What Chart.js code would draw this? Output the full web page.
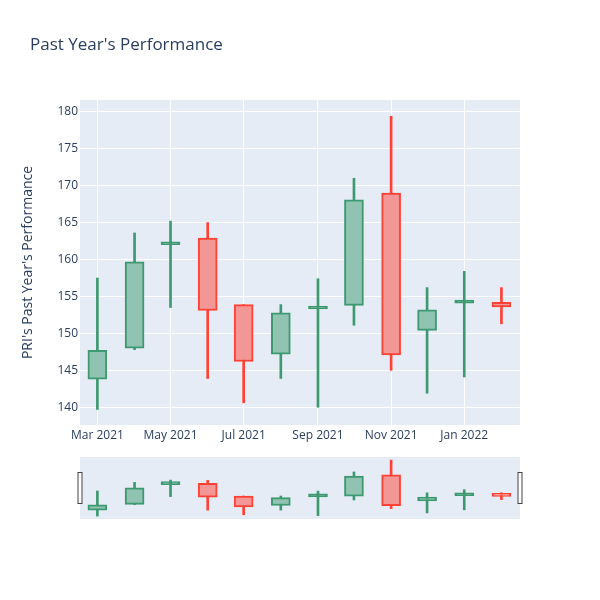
<!DOCTYPE html>
<html>
<head>
<meta charset="utf-8">
<title>Past Year's Performance</title>
<script src="https://cdn.jsdelivr.net/npm/chart.js@4.4.1/dist/chart.umd.min.js"></script>
<style>
  body { margin: 0; background: #fff; }
  #wrap { position: relative; width: 600px; height: 600px; }
  canvas { position: absolute; left: 0; }
  #mainChart { top: 0; }
  #sliderChart { top: 450px; }
</style>
</head>
<body>
<div id="wrap">
  <canvas id="mainChart" width="600" height="450"></canvas>
  <canvas id="sliderChart" width="600" height="80"></canvas>
</div>
<script>
// ==========================
// DATA (monthly candles)
// ==========================
const dates = ["2021-03-01", "2021-04-01", "2021-05-01", "2021-06-01", "2021-07-01", "2021-08-01",
               "2021-09-01", "2021-10-01", "2021-11-01", "2021-12-01", "2022-01-01", "2022-02-01"]
const open  = [143.8, 148.0, 162.0, 162.9, 153.9, 147.2, 153.3, 153.8, 169.0, 150.4, 154.1, 154.2]
const high  = [157.5, 163.6, 165.2, 165.0, 153.9, 153.9, 157.4, 171.0, 179.4, 156.2, 158.4, 156.2]
const low   = [139.7, 147.8, 153.5, 143.9, 140.6, 143.9, 140.0, 151.1, 145.0, 141.9, 144.1, 151.3]
const close = [147.7, 159.7, 162.2, 153.1, 146.2, 152.8, 153.6, 168.1, 147.1, 153.2, 154.3, 153.6]

// tick labels
const xTickDates  = ["2021-03-01", "2021-05-01", "2021-07-01", "2021-09-01", "2021-11-01", "2022-01-01"]
const xTickLabels = ["Mar 2021", "May 2021", "Jul 2021", "Sep 2021", "Nov 2021", "Jan 2022"]
const yTicks = [140, 145, 150, 155, 160, 165, 170, 175, 180]

const titleText = "Past Year's Performance"
const yTitleText = "PRI's Past Year's Performance"

// axis ranges
const xMin = Date.UTC(2021, 1, 14, 12)
const xMax = Date.UTC(2022, 1, 16, 12)
const yMin = 137.6
const yMax = 181.6

// colours (plotly increasing / decreasing)
const upLine = "#3D9970"
const upFill = "rgb(145, 195, 179)"
const downLine = "#FF4136"
const downFill = "rgb(242, 151, 150)"
const textColor = "#2a3f5f"

Chart.defaults.font.family = '"Open Sans", verdana, arial, sans-serif'
Chart.defaults.font.size = 12
Chart.defaults.color = textColor

const isUp = open.map((o, i) => close[i] >= o)
const lineColors = isUp.map((u) => (u ? upLine : downLine))
// very thin bodies look like a solid line (border covers the fill)
const fillColors = isUp.map((u, i) => {
  if (Math.abs(close[i] - open[i]) < 0.5) return lineColors[i]
  return u ? upFill : downFill
})

// builds the body + wick bar datasets
function candleDatasets() {
  return [
    {
      label: "Body",
      data: dates.map((d, i) => ({ x: Date.parse(d), y: [open[i], close[i]] })),
      backgroundColor: fillColors,
      borderColor: lineColors,
      borderWidth: 2,
      borderSkipped: false,
      barThickness: 19,
      minBarLength: 3,
      grouped: false,
      order: 0,
    },
    {
      label: "Wick",
      data: dates.map((d, i) => ({ x: Date.parse(d), y: [low[i], high[i]] })),
      backgroundColor: lineColors,
      borderWidth: 0,
      barThickness: 2,
      grouped: false,
      order: 1,
    },
  ]
}

// plot area background
const plotBackground = {
  id: "plotBackground",
  beforeDraw(chart) {
    const { ctx, chartArea } = chart
    ctx.save()
    ctx.fillStyle = "#E5ECF6"
    ctx.fillRect(chartArea.left, chartArea.top, chartArea.width, chartArea.height)
    ctx.restore()
  },
}

// main title, top left
const mainTitle = {
  id: "mainTitle",
  afterDraw(chart) {
    const ctx = chart.ctx
    ctx.save()
    ctx.font = '17px "Open Sans", verdana, arial, sans-serif'
    ctx.fillStyle = textColor
    ctx.textBaseline = "middle"
    ctx.textAlign = "left"
    ctx.fillText(titleText, 30, 45)
    ctx.restore()
  },
}

// ==========================
// MAIN CANDLESTICK CHART
// ==========================
const mainChart = new Chart(document.getElementById("mainChart").getContext("2d"), {
  type: "bar",
  data: { datasets: candleDatasets() },
  options: {
    responsive: false,
    animation: false,
    devicePixelRatio: 1,
    layout: { padding: { left: 0, right: 80, top: 100, bottom: 0 } },
    plugins: {
      legend: { display: false },
      tooltip: { enabled: false },
    },
    scales: {
      x: {
        type: "linear",
        min: xMin,
        max: xMax,
        offset: false,
        grid: { color: "#ffffff", lineWidth: 1, drawTicks: false, offset: false },
        border: { display: false },
        afterBuildTicks: (scale) => {
          scale.ticks = xTickDates.map((d) => ({ value: Date.parse(d) }))
        },
        afterFit: (scale) => {
          scale.height = 25
        },
        ticks: {
          padding: 3,
          maxRotation: 0,
          autoSkip: false,
          callback: (value, index) => xTickLabels[index],
        },
      },
      y: {
        type: "linear",
        min: yMin,
        max: yMax,
        grid: { color: "#ffffff", lineWidth: 1, drawTicks: false },
        border: { display: false },
        afterBuildTicks: (scale) => {
          scale.ticks = yTicks.map((v) => ({ value: v }))
        },
        afterFit: (scale) => {
          scale.width = 80
        },
        ticks: { padding: 2 },
        title: {
          display: true,
          text: yTitleText,
          font: { size: 14 },
          color: textColor,
          padding: { top: 19.6, bottom: 0 },
        },
      },
    },
  },
  plugins: [plotBackground, mainTitle],
})

// ==========================
// RANGE SLIDER (mini chart)
// ==========================
const sliderHandles = {
  id: "sliderHandles",
  afterDraw(chart) {
    const { ctx, chartArea } = chart
    const mid = (chartArea.top + chartArea.bottom) / 2
    ctx.save()
    ctx.fillStyle = "#ffffff"
    ctx.strokeStyle = "#444444"
    ctx.lineWidth = 1
    ;[chartArea.left, chartArea.right].forEach((x) => {
      ctx.fillRect(x - 2, mid - 16, 4, 32)
      ctx.strokeRect(x - 2, mid - 16 + 0.5, 4, 31)
    })
    ctx.restore()
  },
}

const sliderChart = new Chart(document.getElementById("sliderChart").getContext("2d"), {
  type: "bar",
  data: { datasets: candleDatasets() },
  options: {
    responsive: false,
    animation: false,
    devicePixelRatio: 1,
    layout: { padding: { left: 80, right: 80, top: 7, bottom: 11 } },
    plugins: {
      legend: { display: false },
      tooltip: { enabled: false },
    },
    scales: {
      x: { type: "linear", min: xMin, max: xMax, offset: false, display: false },
      y: { type: "linear", min: yMin, max: yMax, display: false },
    },
  },
  plugins: [plotBackground, sliderHandles],
})
</script>
</body>
</html>
